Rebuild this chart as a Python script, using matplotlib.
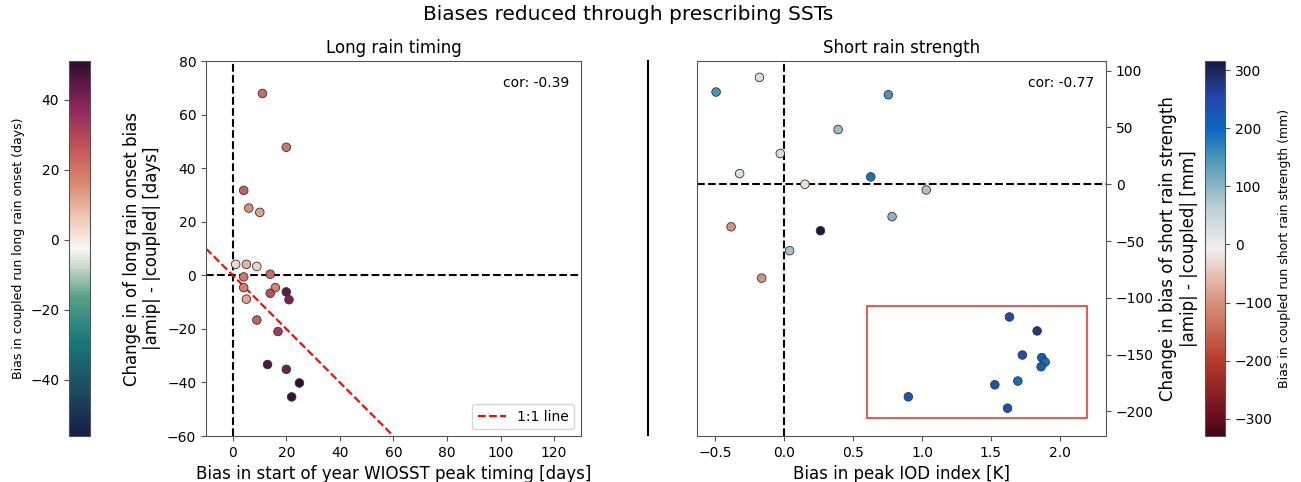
import numpy as np
import matplotlib
matplotlib.use('Agg')
import matplotlib.pyplot as plt
from matplotlib.colors import LinearSegmentedColormap, Normalize
from matplotlib.patches import Rectangle
from matplotlib.lines import Line2D

# long rain timing panel
lr_x = [11.1, 20.0, 4.1, 6.0, 10.1, 1.1, 5.1, 9.0, 14.0, 4.1, 4.1, 15.9,
        14.0, 5.1, 20.0, 21.0, 9.0, 16.9, 13.0, 20.0, 24.9, 22.0]
lr_y = [67.9, 47.8, 31.7, 25.1, 23.5, 4.1, 4.1, 3.3, 0.4, -0.6, -4.6, -4.6,
        -6.7, -8.9, -6.2, -9.1, -16.7, -21.0, -33.3, -35.1, -40.2, -45.4]
lr_bias = [22, 20, 24, 15, 12, 3, 10, 4, 22, 20, 18, 17,
           28, 12, 44, 40, 24, 33, 46, 42, 50, 49]

# short rain strength panel
sr_x = [-0.495, -0.18, 0.756, 0.391, -0.029, -0.324, 0.628, 0.15, 1.031,
        0.783, -0.386, 0.263, 0.039, -0.164, 1.635, 1.836, 1.729, 1.87,
        1.894, 1.865, 1.696, 1.529, 0.901, 1.621]
sr_y = [81.2, 94.1, 78.8, 48.2, 27.1, 9.4, 6.5, 0.0, -5.0, -28.5, -37.4,
        -40.9, -58.5, -82.6, -116.8, -129.1, -150.3, -152.6, -156.5, -160.6,
        -173.2, -176.5, -187.1, -197.1]
sr_bias = [150, 30, 150, 90, 30, 30, 185, -20, 80, 100, -100, 316, 80, -100,
           250, 275, 245, 210, 190, 205, 190, 235, 220, 240]

# approximations of cmocean curl and balance_r
curl = LinearSegmentedColormap.from_list('curl', [
    (0.00, '#161d48'), (0.12, '#1e4a5e'), (0.25, '#17787a'),
    (0.37, '#56a08a'), (0.45, '#c9d8c8'), (0.50, '#fbf7f4'),
    (0.58, '#efc9b6'), (0.68, '#d9856c'), (0.78, '#c04f58'),
    (0.88, '#8a2560'), (1.00, '#2e0c2e')])
balance_r = LinearSegmentedColormap.from_list('balance_r', [
    (0.00, '#3c0912'), (0.05, '#6a0d20'), (0.20, '#b83a2a'),
    (0.36, '#d8957f'), (0.50, '#f1eeed'), (0.60, '#c2d2d8'),
    (0.666, '#8fb5c5'), (0.74, '#4a98b8'), (0.82, '#0a66c0'),
    (0.90, '#2448b0'), (0.96, '#1f2c6c'), (1.00, '#151a42')])

plt.rcParams['axes.edgecolor'] = '#555555'

fig = plt.figure(figsize=(13.01, 4.82), dpi=100)
fig.suptitle('Biases reduced through prescribing SSTs', fontsize=14.5,
             x=0.483, y=0.99)

cax1 = fig.add_axes([0.053, 0.0954, 0.0161, 0.778])
ax1 = fig.add_axes([0.1583, 0.0954, 0.2882, 0.778])
ax2 = fig.add_axes([0.5357, 0.0954, 0.3144, 0.778])
cax2 = fig.add_axes([0.9262, 0.0954, 0.0154, 0.778])

norm1 = Normalize(vmin=-56, vmax=51)
norm2 = Normalize(vmin=-330, vmax=316)

# left panel
ax1.axvline(0, color='k', ls='--', lw=1.5)
ax1.axhline(0, color='k', ls='--', lw=1.5)
xx = np.array([-10, 60])
ax1.plot(xx, -xx, 'r--', lw=1.5, label='1:1 line')
sc1 = ax1.scatter(lr_x, lr_y, c=lr_bias, cmap=curl, norm=norm1, s=38,
                  edgecolors='#333333', linewidths=0.6, zorder=3)
ax1.set_xlim(-10, 130)
ax1.set_ylim(-60, 80)
ax1.set_xticks(np.arange(0, 121, 20))
ax1.set_yticks(np.arange(-60, 81, 20))
ax1.tick_params(labelsize=10, color='#555555')
ax1.set_title('Long rain timing', fontsize=12)
ax1.set_xlabel('Bias in start of year WIOSST peak timing [days]', fontsize=12)
ax1.set_ylabel('Change in of long rain onset bias\n|amip| - |coupled| [days]',
               fontsize=12)
ax1.text(0.97, 0.96, 'cor: -0.39', transform=ax1.transAxes, ha='right',
         va='top', fontsize=10)
ax1.legend(loc='lower right', fontsize=10)

cb1 = fig.colorbar(sc1, cax=cax1, ticks=[-40, -20, 0, 20, 40])
cb1.ax.yaxis.set_ticks_position('left')
cb1.ax.yaxis.set_label_position('left')
cb1.set_label('Bias in coupled run long rain onset (days)', fontsize=9)
cb1.ax.tick_params(labelsize=10, color='#555555')

# right panel
ax2.axvline(0, color='k', ls='--', lw=1.5)
ax2.axhline(0, color='k', ls='--', lw=1.5)
sc2 = ax2.scatter(sr_x, sr_y, c=sr_bias, cmap=balance_r, norm=norm2, s=38,
                  edgecolors='#333333', linewidths=0.6, zorder=3)
ax2.add_patch(Rectangle((0.6, -206), 1.6, 99, fill=False, ec='#e83a3a',
                        lw=1.2, zorder=4))
ax2.set_xlim(-0.634, 2.336)
ax2.set_ylim(-221.6, 108.5)
ax2.set_xticks([-0.5, 0.0, 0.5, 1.0, 1.5, 2.0])
ax2.set_yticks(np.arange(-200, 101, 50))
ax2.yaxis.tick_right()
ax2.yaxis.set_label_position('right')
ax2.tick_params(labelsize=10, color='#555555')
ax2.set_title('Short rain strength', fontsize=12)
ax2.set_xlabel('Bias in peak IOD index [K]', fontsize=12)
ax2.set_ylabel('Change in bias of short rain strength\n|amip| - |coupled| [mm]',
               fontsize=12)
ax2.text(0.97, 0.96, 'cor: -0.77', transform=ax2.transAxes, ha='right',
         va='top', fontsize=10)

cb2 = fig.colorbar(sc2, cax=cax2, ticks=np.arange(-300, 301, 100))
cb2.set_label('Bias in coupled run short rain strength (mm)', fontsize=9)
cb2.ax.tick_params(labelsize=10, color='#555555')

# separator between the panels
fig.add_artist(Line2D([0.498, 0.498], [0.0975, 0.874], color='k', lw=1.5,
                      transform=fig.transFigure))

fig.savefig('out.png', dpi=100)
